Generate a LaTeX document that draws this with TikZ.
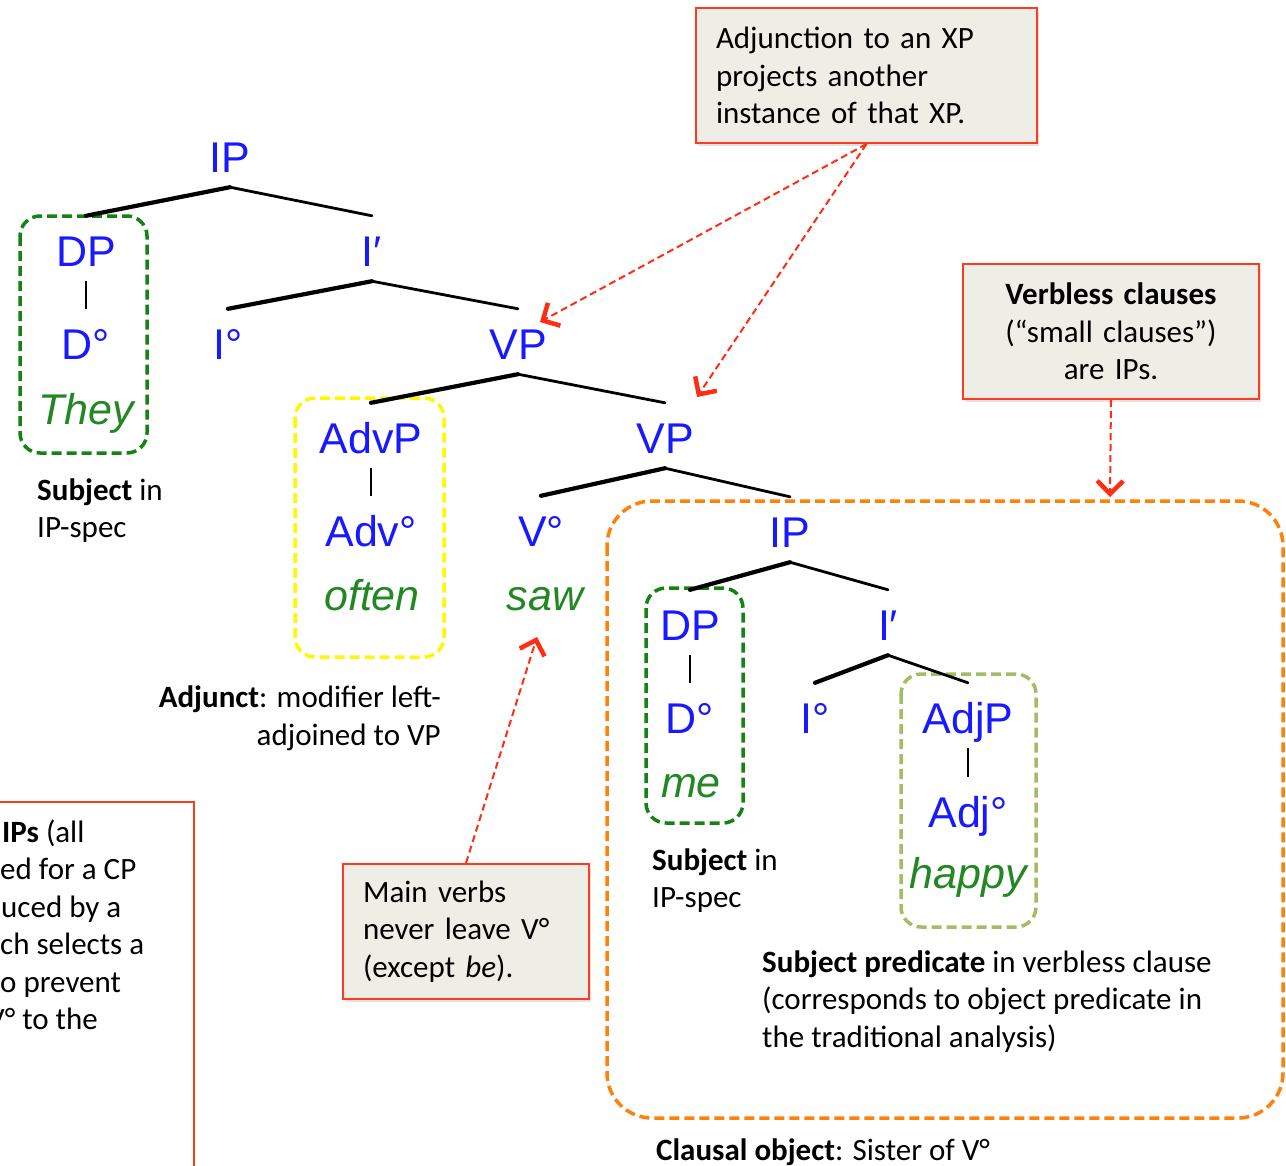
\documentclass[tikz,border=0pt]{standalone}
\usepackage{fontspec}
\setmainfont{Carlito}
\newfontfamily\tlfont{Liberation Sans}
\usetikzlibrary{arrows.meta,shadows}
\definecolor{tblue}{RGB}{25,25,255}
\definecolor{tgreen}{RGB}{35,135,35}
\definecolor{bxgreen}{RGB}{20,130,20}
\definecolor{bxyellow}{RGB}{255,248,0}
\definecolor{bxorange}{RGB}{255,128,10}
\definecolor{bxlight}{RGB}{160,190,100}
\definecolor{cred}{RGB}{255,58,30}
\definecolor{cfill}{RGB}{239,238,230}
\definecolor{ared}{RGB}{255,45,20}
\begin{document}
\begin{tikzpicture}[x=1bp,y=-1bp,
 lab/.style={font=\tlfont\fontsize{43bp}{43bp}\selectfont, text=tblue, text height=35bp, text depth=0bp, inner xsep=0bp, inner ysep=15bp, anchor=base},
 leaf/.style={font=\tlfont\itshape\fontsize{43bp}{43bp}\selectfont, text=tgreen, inner sep=0bp, anchor=base},
 brL/.style={line width=4.2bp, line cap=round},
 brR/.style={line width=2.8bp, line cap=round},
 brU/.style={line width=2.2bp},
 grp/.style={line width=3.5bp, dash pattern=on 10bp off 5bp, rounded corners=20bp},
 note/.style={font=\fontsize{31bp}{37.5bp}\selectfont, inner sep=0bp, align=left, anchor=base west},
 callout/.style={draw=cred, fill=cfill, line width=2bp, inner xsep=20bp, inner ysep=0bp, font=\fontsize{31bp}{37.5bp}\selectfont, anchor=north west},
 shad/.style={drop shadow={opacity=0.22, shadow xshift=2bp, shadow yshift=-3bp}},
 arr/.style={draw=ared, line width=2bp, dash pattern=on 7bp off 4bp, -{Straight Barb[length=13bp,width=26bp,line width=4.5bp]}},
]
\useasboundingbox (0,0) rectangle (1286,1166);
\clip (0,0) rectangle (1286,1166);
\fill[white] (0,0) rectangle (1286,1166);

% group boxes
\draw[grp, draw=bxgreen] (20,216) rectangle (147,453);
\draw[grp, draw=bxyellow] (295,398) rectangle (444,657);
\draw[grp, draw=bxgreen] (646,588) rectangle (743,823);
\draw[grp, draw=bxlight] (901,674) rectangle (1036,927);
\draw[grp, draw=bxorange, rounded corners=45bp] (607,501) rectangle (1283,1118);

% tree labels
\node[lab] (IP1) at (230,172) {IP};
\node[lab] (DP1) at (86,266) {DP};
\node[lab] (D1) at (86,359) {D°};
\node[leaf] (they) at (86,424) {They};
\node[lab] (Ib1) at (372,266) {I′};
\node[lab] (I1) at (228,359) {I°};
\node[lab] (VP1) at (518,359) {VP};
\node[lab] (AdvP) at (371,453) {AdvP};
\node[lab] (Adv) at (371,546) {Adv°};
\node[leaf] (often) at (372,610) {often};
\node[lab] (VP2) at (665,453) {VP};
\node[lab] (V) at (541,546) {V°};
\node[leaf] (saw) at (545,610) {saw};
\node[lab] (IP2) at (790,547) {IP};
\node[lab] (DP2) at (690,640) {DP};
\node[lab] (D2) at (690,733) {D°};
\node[leaf] (me) at (691,797) {me};
\node[lab] (Ib2) at (888,640) {I′};
\node[lab] (I2) at (815,733) {I°};
\node[lab] (AdjP) at (968,733) {AdjP};
\node[lab] (Adj) at (968,827) {Adj°};
\node[leaf] (happy) at (968,888) {happy};

% branches
\draw[brL] (IP1.south) -- (DP1.north);
\draw[brR] (IP1.south) -- (Ib1.north);
\draw[brU] (DP1.south) -- (D1.north);
\draw[brL] (Ib1.south) -- (I1.north);
\draw[brR] (Ib1.south) -- (VP1.north);
\draw[brL] (VP1.south) -- (AdvP.north);
\draw[brR] (VP1.south) -- (VP2.north);
\draw[brU] (AdvP.south) -- (Adv.north);
\draw[brL] (VP2.south) -- (V.north);
\draw[brR] (VP2.south) -- (IP2.north);
\draw[brL] (IP2.south) -- (DP2.north);
\draw[brR] (IP2.south) -- (Ib2.north);
\draw[brU] (DP2.south) -- (D2.north);
\draw[brL] (Ib2.south) -- (I2.north);
\draw[brR] (Ib2.south) -- (AdjP.north);
\draw[brU] (AdjP.south) -- (Adj.north);

% notes (base anchor = baseline of last line)
\node[note] (subj1) at (37,537.5) {\textbf{Subject} in\\IP-spec};
\node[note, align=right, anchor=base east] (adjn) at (441,745) {\textbf{Adjunct}: modifier left-\\adjoined to VP};
\node[note] (subj2) at (652,907.5) {\textbf{Subject} in\\IP-spec};
\node[note] (pred) at (762,1047) {\textbf{Subject predicate} in verbless clause\\(corresponds to object predicate in\\the traditional analysis)};
\node[note] (clobj) at (656,1160) {\textbf{Clausal object}: Sister of V°};

% callouts
\node[callout, shad, minimum width=341bp, minimum height=135bp, text width=301bp, align=left] (c1) at (695,7) {Adjunction to an XP\\projects another\\instance of that XP.};
\node[callout, shad, minimum width=296bp, minimum height=135bp, text width=256bp, align=center] (c2) at (962,263) {\textbf{Verbless clauses}\\(“small clauses”)\\are IPs.};
\node[callout, shad, minimum width=246bp, minimum height=135bp, text width=206bp, align=left] (c3) at (342,863) {Main verbs\\never leave V°\\(except \textit{be}).};
\node[callout, fill=white, minimum width=203bp, minimum height=420bp] (c4) at (-10,801) {};
\node[note] (c4t) at (-13,1029.5) {\hspace*{15bp}\textbf{IPs} (all\\\hspace*{13bp}ed for a CP\\\hspace*{14bp}uced by a\\\hspace*{13bp}ch selects a\\\hspace*{13bp}o prevent\\V° to the};

% arrows
\coordinate (tipA) at (540,322);
\coordinate (tipB) at (697,397);
\coordinate (tipV) at (1110,497);
\coordinate (tipC) at (537,637);
\draw[arr] (c1.south) -- (tipA);
\draw[arr] (c1.south) -- (tipB);
\draw[arr] (c2.south) -- (tipV);
\draw[arr] (c3.north) -- (tipC);
\end{tikzpicture}
\end{document}
